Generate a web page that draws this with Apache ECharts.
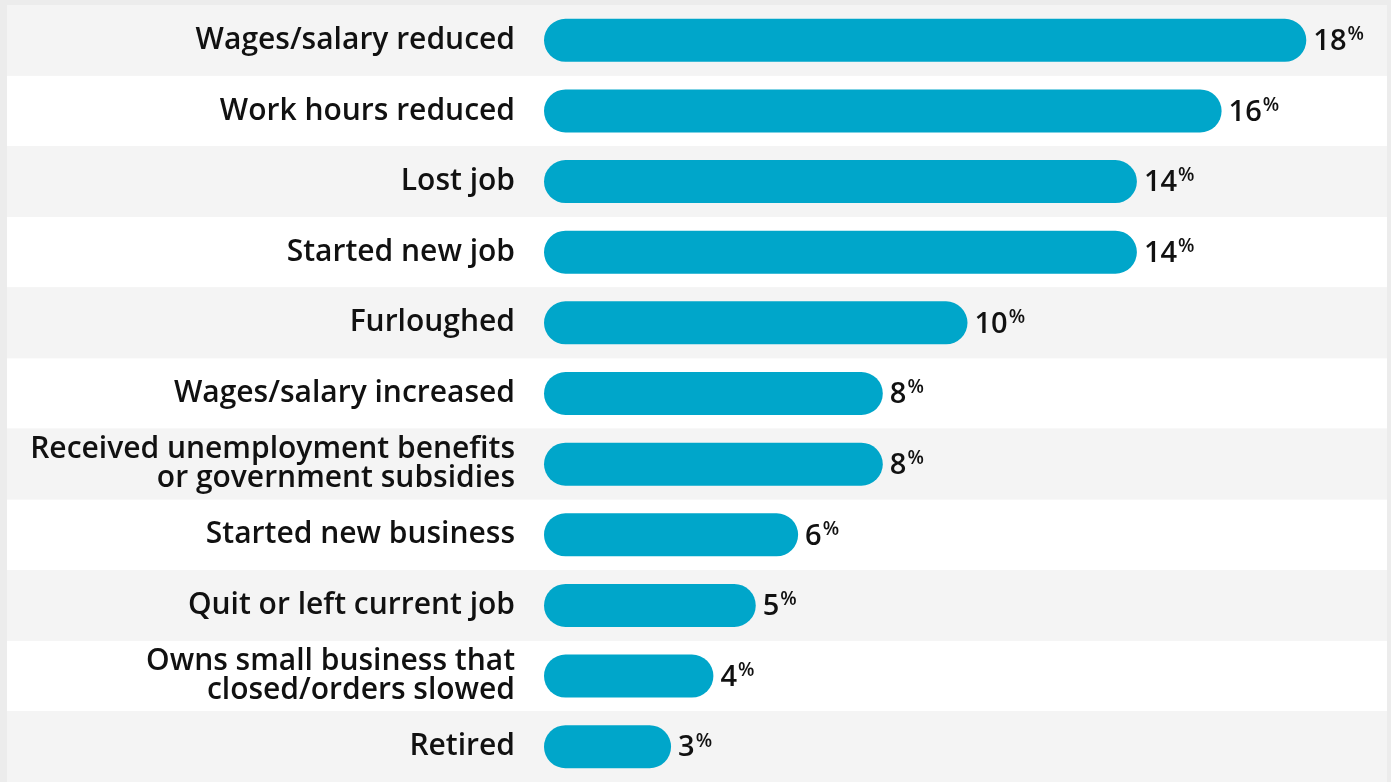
<!DOCTYPE html>
<html>
<head>
<meta charset="utf-8">
<script src="https://cdn.jsdelivr.net/npm/echarts@6/dist/echarts.min.js"></script>
<style>
  html, body { margin: 0; padding: 0; background: #ececec; }
  #chart { width: 1391px; height: 782px; }
</style>
</head>
<body>
<div id="chart"></div>
<script>
// Employment changes, share of respondents (%)
const categories = [
  'Wages/salary reduced',
  'Work hours reduced',
  'Lost job',
  'Started new job',
  'Furloughed',
  'Wages/salary increased',
  'Received unemployment benefits\nor government subsidies',
  'Started new business',
  'Quit or left current job',
  'Owns small business that\nclosed/orders slowed',
  'Retired'
];
const values = [18, 16, 14, 14, 10, 8, 8, 6, 5, 4, 3];

const FONT = '"Open Sans", "Noto Sans", sans-serif';
const BAR_COLOR = '#00a6ca';
const TEXT_COLOR = '#111111';

const chart = echarts.init(document.getElementById('chart'));

chart.setOption({
  backgroundColor: '#ececec',
  animation: false,
  grid: [
    // full-width panel carrying the alternating row bands
    { left: 7, right: 4, top: 5, height: 781 },
    // plotting area for the bars
    { left: 544, right: 0, top: 5, height: 781 }
  ],
  xAxis: [
    { gridIndex: 0, type: 'value', min: 0, max: 1, show: false },
    { gridIndex: 1, type: 'value', min: 0, max: 20, show: false }
  ],
  yAxis: [
    {
      gridIndex: 0,
      type: 'category',
      inverse: true,
      data: categories,
      axisLine: { show: false },
      axisTick: { show: false },
      axisLabel: { show: false },
      splitLine: { show: false },
      splitArea: { show: true, areaStyle: { color: ['#f4f4f4', '#ffffff'] } }
    },
    {
      gridIndex: 1,
      type: 'category',
      inverse: true,
      data: categories,
      axisLine: { show: false },
      axisTick: { show: false },
      splitLine: { show: false },
      axisLabel: {
        margin: 29,
        color: TEXT_COLOR,
        fontFamily: FONT,
        fontSize: 30,
        fontWeight: 600,
        lineHeight: 29,
        align: 'right',
        padding: [6, 0, 0, 0]
      }
    }
  ],
  series: [
    {
      type: 'bar',
      xAxisIndex: 1,
      yAxisIndex: 1,
      data: values,
      barWidth: 43,
      itemStyle: { color: BAR_COLOR, borderRadius: 21.5 },
      label: {
        show: true,
        position: 'right',
        distance: 7,
        formatter: p => '{v|' + p.value + '}{p|%}',
        rich: {
          v: { fontFamily: FONT, fontSize: 29, fontWeight: 600, color: TEXT_COLOR, lineHeight: 30, padding: [3, 0, 0, 0] },
          p: { fontFamily: FONT, fontSize: 19, fontWeight: 600, color: TEXT_COLOR, verticalAlign: 'top', lineHeight: 30, padding: [0, 0, 10, 1] }
        }
      }
    }
  ]
});
</script>
</body>
</html>
